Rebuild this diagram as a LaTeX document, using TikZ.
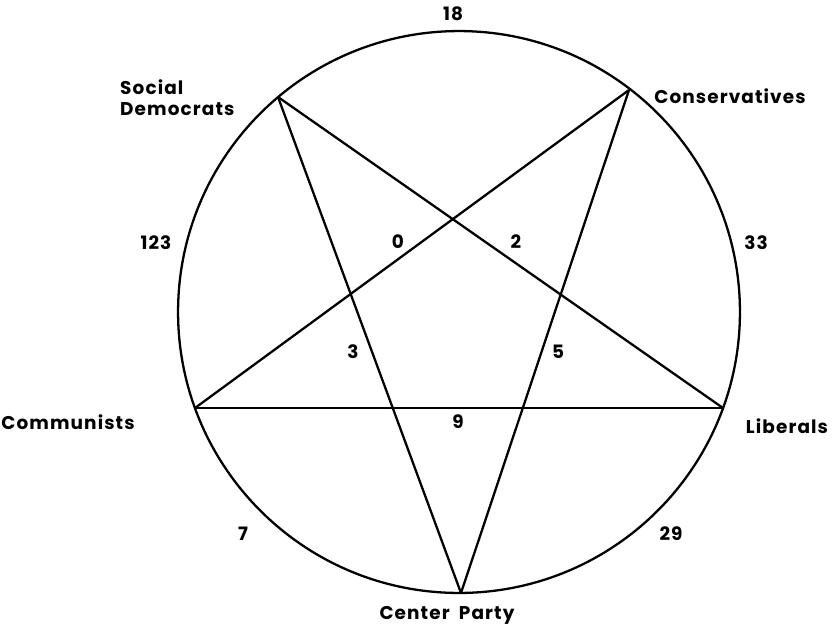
\documentclass[tikz,border=0pt]{standalone}
\usepackage{fontspec}
\setmainfont{Poppins}[LetterSpace=6]
\begin{document}
\begin{tikzpicture}[x=0.02cm,y=-0.02cm,
  party/.style={font=\fontsize{10.5}{12}\selectfont\bfseries},
  count/.style={font=\fontsize{10.5}{12}\selectfont\bfseries},
  edge/.style={line width=1.3pt}
]
  \useasboundingbox (0,0) rectangle (838,630);
  % circle and vertices of the star
  \coordinate (mid) at (459,312);
  \coordinate (sd) at (278,97);
  \coordinate (cons) at (629,90);
  \coordinate (comm) at (195,408);
  \coordinate (lib) at (723,408);
  \coordinate (cent) at (461,593);
  \draw[edge] (mid) circle[radius=5.62cm];
  \draw[edge] (sd) -- (lib);
  \draw[edge] (sd) -- (cent);
  \draw[edge] (cons) -- (comm);
  \draw[edge] (cons) -- (cent);
  \draw[edge] (comm) -- (lib);
  % party names
  \node[party,align=left,anchor=west] (sdlabel) at (114,98) {Social\\Democrats};
  \node[party] (conslabel) at (730,96) {Conservatives};
  \node[party] (commlabel) at (68,422) {Communists};
  \node[party] (liblabel) at (787,426) {Liberals};
  \node[party] (centlabel) at (447,615) {Center\hspace{0.5em}Party};
  % counts
  \node[count] (n18) at (453,14) {18};
  \node[count] (n123) at (156,243) {123};
  \node[count] (n33) at (756,243) {33};
  \node[count] (n0) at (398,242) {0};
  \node[count] (n2) at (516,242) {2};
  \node[count] (n3) at (353,352) {3};
  \node[count] (n5) at (558,352) {5};
  \node[count] (n9) at (458,422) {9};
  \node[count] (n7) at (243,534) {7};
  \node[count] (n29) at (671,534) {29};
\end{tikzpicture}
\end{document}
